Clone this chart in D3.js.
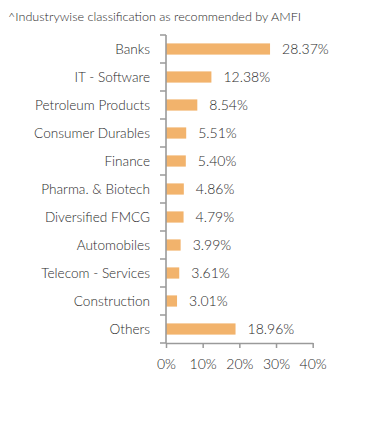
<!DOCTYPE html>
<html><head><meta charset="utf-8">
<script src="https://cdn.jsdelivr.net/npm/d3@7"></script>
<style>body{margin:0;background:#fff;} svg{display:block;font-family:Lato, "Open Sans", sans-serif;}</style>
</head><body>
<script>
const categories = ["Banks","IT - Software","Petroleum Products","Consumer Durables","Finance","Pharma. & Biotech","Diversified FMCG","Automobiles","Telecom - Services","Construction","Others"];
const values = [28.37,12.38,8.54,5.51,5.40,4.86,4.79,3.99,3.61,3.01,18.96];
const xTicks = [0,10,20,30,40];
const title = "^Industrywise classification as recommended by AMFI";

const W=392,H=433;
const svg=d3.select("body").append("svg").attr("width",W).attr("height",H);
const x=d3.scaleLinear().domain([0,40]).range([166,312.7]);
const y=d3.scaleBand().domain(categories).range([35,343]).paddingInner(0.6).paddingOuter(0.3);
const axisColor="#9a9a9a", textColor="#2a2a2a";

svg.append("text").attr("x",8).attr("y",21).attr("font-size",12.6).attr("font-weight",300).attr("fill",textColor).text(title);

svg.selectAll("rect.bar").data(values).join("rect").attr("class","bar")
  .attr("x",x(0)).attr("y",(d,i)=>y(categories[i]))
  .attr("width",d=>x(d)-x(0)).attr("height",y.bandwidth()).attr("fill","#F2B36C");

svg.selectAll("text.val").data(values).join("text").attr("class","val")
  .attr("x",d=>x(d)+12).attr("y",(d,i)=>y(categories[i])+y.bandwidth()/2)
  .attr("dy","0.36em").attr("font-size",14).attr("font-weight",300).attr("fill",textColor)
  .text(d=>d.toFixed(2)+"%");

// y axis with ticks at band boundaries
const yAxisG=svg.append("g");
const bounds=d3.range(categories.length+1).map(i=>35+i*28);
yAxisG.append("line").attr("x1",166).attr("x2",166).attr("y1",35).attr("y2",343).attr("stroke",axisColor).attr("stroke-width",1.6);
yAxisG.selectAll("line.t").data(bounds).join("line").attr("class","t")
  .attr("x1",160).attr("x2",166).attr("y1",d=>d).attr("y2",d=>d).attr("stroke",axisColor).attr("stroke-width",1.5);
yAxisG.selectAll("text").data(categories).join("text")
  .attr("x",150).attr("y",d=>y(d)+y.bandwidth()/2).attr("dy","0.36em")
  .attr("text-anchor","end").attr("font-size",13.6).attr("font-weight",300).attr("fill",textColor).text(d=>d);

const xAxis=d3.axisBottom(x).tickValues(xTicks).tickFormat(d=>d+"%").tickSize(5).tickSizeOuter(0).tickPadding(11);
const gx=svg.append("g").attr("transform","translate(0,343)").call(xAxis);
gx.select(".domain").attr("stroke",axisColor).attr("stroke-width",1.6);
gx.selectAll(".tick line").attr("stroke",axisColor).attr("stroke-width",1.5);
gx.selectAll(".tick text").attr("font-size",14).attr("font-weight",300).attr("fill",textColor).attr("font-family","Lato, sans-serif");
</script>
</body></html>
